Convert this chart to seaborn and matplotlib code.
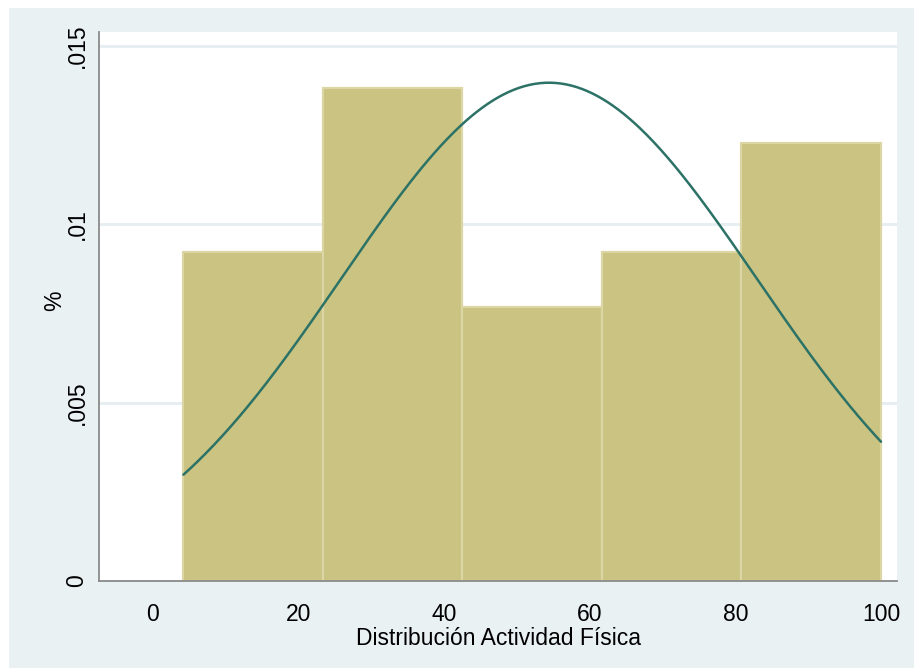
import numpy as np
import pandas as pd
import matplotlib
matplotlib.use("Agg")
import matplotlib.pyplot as plt
from matplotlib.patches import Rectangle
import seaborn as sns

# Histogram bins (edges) and counts per bin
bin_edges = [4.2, 23.36, 42.52, 61.68, 80.84, 100.0]
bin_counts = [6, 9, 5, 6, 8]

# Parameters of the overlaid normal curve
norm_mean = 54.4
norm_sd = 28.56

x_ticks = [0, 20, 40, 60, 80, 100]
y_ticks = [0, 0.005, 0.01, 0.015]
y_tick_labels = ["0", ".005", ".01", ".015"]

x_label = "Distribución Actividad Física"
y_label = "%"

bar_color = "#CBC382"
bar_edge = "#DCD5A4"
curve_color = "#2C7266"
panel_color = "#EAF1F3"
grid_color = "#E6EEF1"
axis_color = "#8A8A8A"

sns.set_style("white")
plt.rcParams["font.family"] = ["Liberation Sans", "DejaVu Sans"]
plt.rcParams["text.color"] = "black"
plt.rcParams["axes.labelcolor"] = "black"

fig = plt.figure(figsize=(9.14, 6.68), dpi=100)
fig.patch.set_facecolor("white")
fig.patches.append(Rectangle((9 / 914, 0), 1 - 9 / 914, 1 - 8 / 668,
                             transform=fig.transFigure, facecolor=panel_color,
                             edgecolor="none", zorder=-10))

ax = fig.add_axes([99 / 914, 87 / 668, (897 - 99) / 914, (581 - 32) / 668])
ax.set_zorder(1)
ax.set_facecolor("white")

centers = [(a + b) / 2 for a, b in zip(bin_edges[:-1], bin_edges[1:])]
hist_df = pd.DataFrame({"value": centers, "count": bin_counts})
sns.histplot(data=hist_df, x="value", weights="count", bins=bin_edges,
             stat="density", color=bar_color, alpha=1.0,
             edgecolor=bar_edge, linewidth=1.6, ax=ax, zorder=2)

xs = np.linspace(bin_edges[0], bin_edges[-1], 400)
pdf = np.exp(-0.5 * ((xs - norm_mean) / norm_sd) ** 2) / (norm_sd * np.sqrt(2 * np.pi))
sns.lineplot(x=xs, y=pdf, color=curve_color, linewidth=1.8, ax=ax, zorder=3)

ax.set_xlim(-7.4, 102.2)
ax.set_ylim(0, 0.01539)

ax.set_yticks(y_ticks)
ax.set_yticklabels(y_tick_labels, rotation=90, va="center")
ax.set_xticks(x_ticks)
ax.set_xticklabels([str(t) for t in x_ticks])

ax.yaxis.grid(True, color=grid_color, linewidth=2.0, zorder=1)
ax.xaxis.grid(False)
ax.set_axisbelow(True)

for side in ["top", "right"]:
    ax.spines[side].set_visible(False)
for side in ["left", "bottom"]:
    ax.spines[side].set_color(axis_color)
    ax.spines[side].set_linewidth(1.3)

ax.tick_params(axis="both", which="major", length=6.5, width=1.1,
               color=axis_color, labelsize=16.5, labelcolor="black")
ax.tick_params(axis="x", pad=9)
ax.tick_params(axis="y", pad=1)

ax.set_xlabel(x_label, fontsize=16.5, labelpad=1, color="black")
ax.set_ylabel(y_label, fontsize=16.5, color="black")
ax.yaxis.set_label_coords(-0.041, 0.51)

fig.savefig("out.png", dpi=100, facecolor=fig.get_facecolor())
